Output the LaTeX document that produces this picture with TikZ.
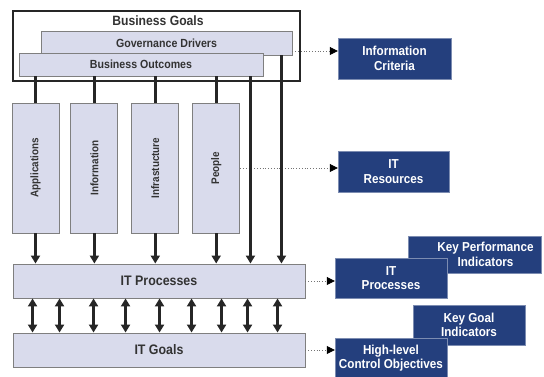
\documentclass[tikz,border=0pt]{standalone}
\usepackage{graphicx}
\usepackage{fontspec}
\setmainfont{Liberation Sans}[FakeStretch=0.9]
\usetikzlibrary{arrows.meta,positioning}
\definecolor{boxfill}{HTML}{D9DBEC}
\definecolor{boxline}{HTML}{7F7F7F}
\definecolor{cobitblue}{HTML}{243F7D}
\definecolor{textgray}{HTML}{333333}

\begin{document}
\begin{tikzpicture}[
  x=1pt, y=1pt,
  >={Triangle[length=8pt,width=9pt]},
  font=\bfseries,
  graybox/.style={rectangle, draw=boxline, line width=0.9pt, fill=boxfill, text=textgray, inner sep=0pt, align=center},
  colbox/.style={graybox, minimum width=47pt, minimum height=130pt, font=\bfseries\fontsize{11}{12}\selectfont},
  barbox/.style={graybox, minimum height=23pt, font=\bfseries\fontsize{11.8}{13}\selectfont},
  widebox/.style={graybox, minimum width=292pt, minimum height=34pt, font=\bfseries\fontsize{13.8}{15}\selectfont},
  bluebox/.style={rectangle, fill=cobitblue, draw=cobitblue!60!white, line width=0.4pt, text=white, inner sep=0pt, align=center, minimum width=112pt, minimum height=40pt, font=\bfseries\fontsize{13}{14.5}\selectfont},
  feed/.style={line width=3pt, draw=black!85},
  link/.style={dotted, draw=black!55, line width=0.8pt, -{Triangle[length=8pt,width=8pt,color=black]}}
]
\useasboundingbox (0,0) rectangle (544,377);

% Top: business goals with drivers and outcomes
\node[rectangle, draw=black!85, line width=2pt, fill=white, minimum width=287pt, minimum height=70pt] (goals) at (156.5,331) {};
\node[text=textgray, font=\bfseries\fontsize{13.5}{15}\selectfont] (title) at (158,356) {Business Goals};
\node[barbox, minimum width=251pt, minimum height=24pt] (gov) at (166.5,334) {Governance Drivers};
\node[barbox, minimum width=244pt] (bo) at (141,312.5) {Business Outcomes};

% IT resources (columns)
\node[colbox] (app) at (35.5,209) {\rotatebox{90}{Applications}};
\node[colbox, right=11pt of app] (info) {\rotatebox{90}{Information}};
\node[colbox, right=13pt of info] (infra) {\rotatebox{90}{Infrastucture}};
\node[colbox, right=13pt of infra] (ppl) {\rotatebox{90}{People}};

% Processes and goals
\node[widebox] (itp) at (159,96) {IT Processes};
\node[widebox] (itg) at (159,27) {IT Goals};

% Blue boxes on the right
\node[bluebox, minimum width=113pt, minimum height=41pt] (crit) at (394.5,318.5) {Information\\Criteria};
\node[bluebox, minimum width=111pt, minimum height=41pt] (res) at (393.5,205.5) {IT\\Resources};
\node[bluebox, minimum width=133pt, minimum height=37pt,
  label={[xshift=11pt, text=white, align=center, font=\bfseries\fontsize{13}{14.5}\selectfont]center:{Key Performance\\Indicators}}] (kpi) at (474.5,122.5) {};
\node[bluebox] (itpb) at (391,99) {IT\\Processes};
\node[bluebox] (kgi) at (469,52) {Key Goal\\Indicators};
\node[bluebox] (hlco) at (391,19) {High-level\\Control Objectives};

% Dotted links
\draw[link] ([yshift=-8pt]gov.east) -- ([yshift=-8pt]gov.east -| crit.west);
\draw[link] (ppl.east) -- (ppl.east -| res.west);
\draw[link] (itp.east) -- (itp.east -| itpb.west);
\draw[link] (itg.east) -- (itg.east -| hlco.west);

% Feeds
\foreach \c in {app,info,infra,ppl} {
  \draw[feed] (\c.north |- bo.south) -- (\c.north);
  \draw[feed,->] (\c.south) -- (\c.south |- itp.north);
}
\draw[feed,->] ([xshift=-13pt]bo.south east) -- ([xshift=-13pt]bo.south east |- itp.north);
\draw[feed,->] ([xshift=-11pt]gov.south east) -- ([xshift=-11pt]gov.south east |- itp.north);

% Processes <-> goals
\foreach \x in {20,47,81,113,147,179,209,235,265}
  \draw[feed,<->] ([xshift=\x pt]itp.south west) -- ([xshift=\x pt]itg.north west);

\end{tikzpicture}
\end{document}
